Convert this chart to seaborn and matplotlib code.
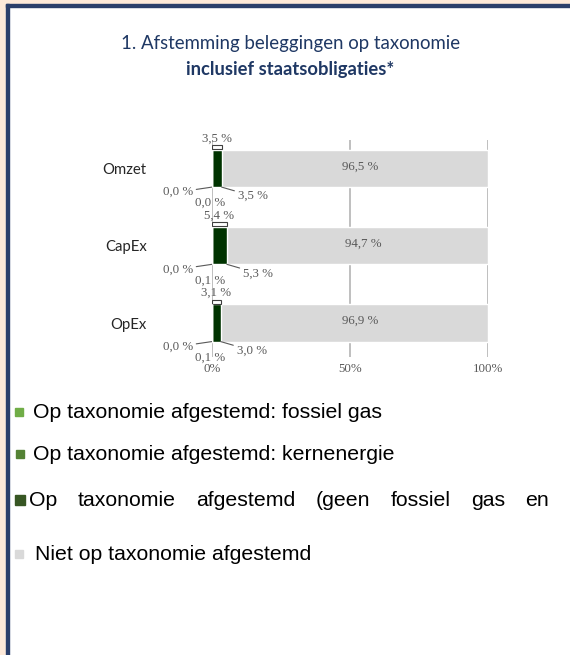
import matplotlib
matplotlib.use("Agg")
import matplotlib.pyplot as plt
import seaborn as sns
import pandas as pd
import numpy as np
from matplotlib.patches import Rectangle

categories = ["Omzet", "CapEx", "OpEx"]
fossil_gas = [0.0, 0.0, 0.0]
nuclear = [0.0, 0.1, 0.1]
aligned = [3.5, 5.3, 3.0]
total_aligned = [3.5, 5.4, 3.1]
not_aligned = [96.5, 94.7, 96.9]
x_ticks = [0, 50, 100]
x_tick_labels = ["0%", "50%", "100%"]
legend_labels = [
    "Op taxonomie afgestemd: fossiel gas",
    "Op taxonomie afgestemd: kernenergie",
    "Op taxonomie afgestemd (geen fossiel gas en",
    "Niet op taxonomie afgestemd",
]

col_gas = "#70AD47"
col_nuc = "#548235"
col_al = "#003300"
col_al_leg = "#375623"
col_not = "#D9D9D9"
grey_txt = "#595959"
navy = "#1F3864"

def fmt(v):
    return f"{v:.1f}".replace(".", ",") + " %"

sns.set_theme(style="white")
fig = plt.figure(figsize=(5.7, 6.55), dpi=100)
W, H = 570, 655

# frame decorations
fig.patches.append(Rectangle((0, 0), 6 / W, 1, transform=fig.transFigure, color="#FDE9D9", zorder=0))
fig.patches.append(Rectangle((0, 1 - 4 / H), 1, 4 / H, transform=fig.transFigure, color="#FDE9D9", zorder=0))
fig.patches.append(Rectangle((6 / W, 0), 3 / W, 1 - 4 / H, transform=fig.transFigure, color="#2B3F6B", zorder=1))
fig.patches.append(Rectangle((6 / W, 1 - 7 / H), 1 - 6 / W, 3 / H, transform=fig.transFigure, color="#2B3F6B", zorder=1))

# title
fig.text(291 / W, 1 - 44 / H, "1. Afstemming beleggingen op taxonomie", ha="center", va="center",
         fontsize=13.4, color=navy, family="Lato")
fig.text(290 / W, 1 - 69 / H, "inclusief staatsobligaties*", ha="center", va="center",
         fontsize=13.2, color=navy, family="Lato", fontweight="bold")

ax = fig.add_axes([212 / W, 1 - 357 / H, 276 / W, 217 / H])

df = pd.DataFrame({
    "cat": categories,
    "gas": fossil_gas,
    "nuc": nuclear,
    "al": aligned,
    "tot": total_aligned,
    "not": not_aligned,
})
df["c_nuc"] = df["gas"] + df["nuc"]
df["c_al"] = df["c_nuc"] + df["al"]
df["c_all"] = df["c_al"] + df["not"]

bh = 0.48
for ticks in x_ticks:
    ax.axvline(ticks, color="#BFBFBF", lw=1.4, zorder=0)

sns.barplot(data=df, y="cat", x="c_all", color=col_not, width=bh, saturation=1, ax=ax, zorder=2, orient="h")
sns.barplot(data=df, y="cat", x="c_al", color=col_al, width=bh, saturation=1, ax=ax, zorder=3, orient="h")
sns.barplot(data=df, y="cat", x="c_nuc", color=col_nuc, width=bh, saturation=1, ax=ax, zorder=4, orient="h")
sns.barplot(data=df, y="cat", x="gas", color=col_gas, width=bh, saturation=1, ax=ax, zorder=5, orient="h")

# bracket bars (total aligned) just above bars
bk = 0.05
ax.barh(np.arange(len(categories)) - bh / 2 - bk / 2 - 0.012, df["tot"], height=bk,
        color="white", edgecolor="#404040", linewidth=0.8, zorder=3)

lab_kw = dict(fontsize=9.3, color=grey_txt, family="Liberation Serif")
for i, r in df.iterrows():
    top = i - bh / 2
    bot = i + bh / 2
    ax.text(r["tot"] / 2, top - 0.15, fmt(r["tot"]), ha="center", va="center", **lab_kw)
    ax.text((r["c_al"] + r["c_all"]) / 2 + 2, i - 0.03, fmt(r["not"]), ha="center", va="center", **lab_kw)
    ax.annotate(fmt(r["gas"]), xy=(r["gas"], bot), xytext=(-19, -5), textcoords="offset pixels",
                ha="right", va="center", annotation_clip=False,
                arrowprops=dict(arrowstyle="-", color=grey_txt, lw=0.8, shrinkA=0, shrinkB=0), **lab_kw)
    ax.annotate(fmt(r["nuc"]), xy=(r["c_nuc"], bot), xytext=(-2, -16), textcoords="offset pixels",
                ha="center", va="center", annotation_clip=False, **lab_kw)
    ax.annotate(fmt(r["al"]), xy=(r["c_al"], bot), xytext=(16, -9), textcoords="offset pixels",
                ha="left", va="center", annotation_clip=False,
                arrowprops=dict(arrowstyle="-", color=grey_txt, lw=0.8, shrinkA=0, shrinkB=0), **lab_kw)

ax.set_xlim(0, 100)
ax.set_ylim(2.44, -0.37)
ax.set_xticks(x_ticks)
ax.set_xticklabels(x_tick_labels, fontsize=9.3, color=grey_txt, family="Liberation Serif")
ax.tick_params(axis="x", length=0, pad=4)
ax.tick_params(axis="y", length=0, pad=47)
for t in ax.get_yticklabels():
    t.set_family("Lato")
    t.set_fontsize(10.7)
    t.set_color("#262626")
ax.set_xlabel("")
ax.set_ylabel("")
for s in ax.spines.values():
    s.set_visible(False)
ax.set_facecolor("none")
ax.grid(False)

# legend as text rows
leg_cols = [col_gas, col_nuc, col_al_leg, col_not]
leg_y = [412, 454, 500, 554]
leg_mx = [15, 16, 15, 15]
leg_ms = [8, 8, 10, 8]
leg_tx = [33, 33, 29, 35]
fs_leg = 15.3
renderer = fig.canvas.get_renderer()
for k, (lab, c, y, mx, ms, tx) in enumerate(zip(legend_labels, leg_cols, leg_y, leg_mx, leg_ms, leg_tx)):
    fig.patches.append(Rectangle((mx / W, 1 - (y + ms / 2) / H), ms / W, ms / H, transform=fig.transFigure,
                                 color=c, zorder=2))
    if k == 2:
        # justified (cut-off) line: spread words between left and right edge
        words = lab.split(" ")
        right = 549
        widths = []
        for w in words:
            t = fig.text(0, 0, w, fontsize=fs_leg, family="Liberation Sans")
            widths.append(t.get_window_extent(renderer).width)
            t.remove()
        gap = (right - tx - sum(widths)) / (len(words) - 1)
        x = tx
        for w, wd in zip(words, widths):
            fig.text(x / W, 1 - y / H, w, ha="left", va="center", fontsize=fs_leg, color="black",
                     family="Liberation Sans")
            x += wd + gap
    else:
        fig.text(tx / W, 1 - y / H, lab, ha="left", va="center", fontsize=fs_leg, color="black",
                 family="Liberation Sans")

fig.savefig("out.png", dpi=100)
